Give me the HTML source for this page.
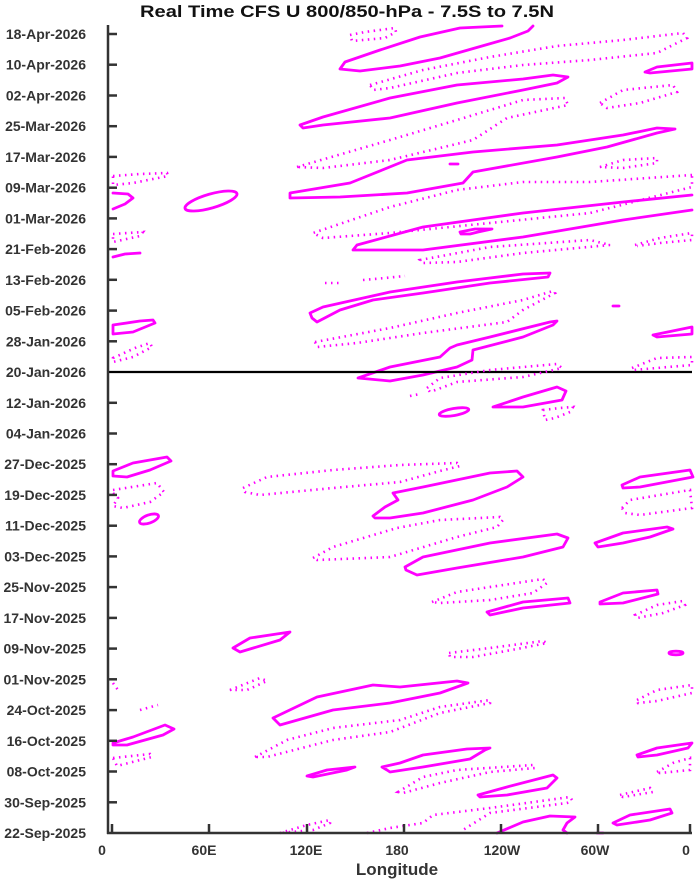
<!DOCTYPE html>
<html><head><meta charset="utf-8"><style>
html,body{margin:0;padding:0;background:#fff;}
svg{display:block;}
text{font-family:"Liberation Sans",Arial,sans-serif;font-weight:bold;fill:#333;}
.s{fill:none;stroke:#ff00ff;stroke-width:2.8;stroke-linejoin:round;stroke-linecap:round;}
.d{fill:none;stroke:#ff00ff;stroke-width:2.6;stroke-dasharray:1.5 4.5;stroke-linecap:butt;}
</style></head><body>
<svg width="695" height="880" viewBox="0 0 695 880" xmlns="http://www.w3.org/2000/svg">
<text x="347" y="17" font-size="17" text-anchor="middle" fill="#111" style="fill:#111" textLength="414" lengthAdjust="spacingAndGlyphs">Real Time CFS U 800/850-hPa - 7.5S to 7.5N</text>

<!-- contours: top half -->
<polygon class="d" points="350,35 365,32 395,28 396,32 385,38 352,41"/>
<polyline class="s" points="502,26 460,28 420,37 380,50 345,62 340,69 360,71 400,66 440,58 475,48 510,38 528,31 533,26"/>
<polygon class="d" points="370,85 423,70 490,57 557,46 623,40 683,33 687,38 657,53 590,60 523,65 457,73 390,88 373,90"/>
<polygon class="s" points="645,72 657,67 692,63 692,69 650,73"/>
<polygon class="s" points="300,125 323,117 390,98 457,85 523,79 553,75 568,77 557,83 523,90 457,103 390,118 323,125 303,128"/>
<polygon class="d" points="600,103 623,90 673,85 677,92 640,103 607,108"/>
<polygon class="d" points="297,167 390,140 457,120 523,100 565,98 568,105 507,118 473,140 390,160 323,168"/>
<polygon class="s" points="290,193 350,183 407,160 473,152 557,145 623,135 657,128 675,129 657,133 607,147 557,157 473,172 463,183 407,193 340,197 290,198"/>
<line class="s" x1="450" y1="164" x2="458" y2="164"/>
<polygon class="d" points="600,167 623,160 657,158 657,163 623,168"/>
<polygon class="d" points="692,175 590,182 523,182 457,190 390,207 313,233 323,238 390,233 490,223 590,213 692,187"/>
<polyline class="s" points="692,195 623,202 523,213 423,227 357,245 353,250 423,250 523,237 623,220 692,210"/>
<polygon class="s" points="460,232 475,229 492,229 478,232 470,234 461,234"/>
<polygon class="d" points="420,260 490,247 590,240 610,245 523,253 457,262 423,263"/>
<polyline class="d" points="635,245 660,238 692,233 692,240 660,243 637,246"/>
<polyline class="d" points="325,283 340,283"/>
<polyline class="d" points="363,280 385,278 405,276"/>
<polygon class="s" points="310,313 323,307 390,292 457,282 523,274 550,273 548,277 490,283 423,293 373,300 340,310 317,322 312,318"/>
<polygon class="d" points="315,342 390,328 457,313 523,300 553,291 555,293 523,310 507,322 423,333 357,343 317,347"/>
<line class="s" x1="613" y1="306" x2="619" y2="306"/>
<polygon class="s" points="653,335 692,327 692,334 657,337"/>
<polygon class="s" points="358,378 390,367 440,357 450,348 457,345 490,337 550,322 557,321 553,325 523,337 473,350 472,360 457,367 423,375 390,381"/>
<!-- left side top -->
<polygon class="d" points="113,176 140,174 167,173 168,176 133,183 113,185"/>
<polyline class="s" points="113,193 128,194 133,198 125,204 113,209"/>
<ellipse class="s" cx="211" cy="201" rx="27" ry="7" transform="rotate(-16 211 201)"/>
<polygon class="d" points="113,234 143,232 140,236 113,242"/>
<polyline class="s" points="113,257 125,254 140,253"/>
<polygon class="s" points="113,325 140,321 153,320 155,323 133,332 113,334"/>
<polygon class="d" points="113,358 135,348 150,343 152,347 133,357 113,362"/>

<!-- 20-Jan line -->
<line x1="108" y1="372" x2="692" y2="372" stroke="#000" stroke-width="2.2"/>

<!-- below line -->
<polygon class="d" points="427,388 440,378 490,370 557,364 562,368 523,377 457,382 430,392"/>
<polyline class="d" points="410,396 420,394"/>
<polygon class="d" points="632,368 657,358 692,357 692,365 657,368 633,370"/>
<polygon class="s" points="493,407 523,397 557,387 566,391 562,400 523,407"/>
<ellipse class="s" cx="454" cy="412" rx="15" ry="3.5" transform="rotate(-10 454 412)"/>
<polygon class="d" points="543,410 560,408 573,407 570,412 555,418 545,420"/>

<!-- Dec -->
<polygon class="s" points="113,471 133,463 167,457 171,461 150,470 127,477 113,476"/>
<polygon class="d" points="113,490 157,483 164,492 150,502 123,508 113,506 118,498 113,493"/>
<ellipse class="s" cx="149" cy="519" rx="10" ry="4" transform="rotate(-20 149 519)"/>
<polygon class="d" points="243,488 267,477 333,470 400,465 457,463 460,466 440,471 400,482 333,488 260,495 245,492"/>
<polygon class="s" points="373,516 385,507 398,500 393,493 423,487 490,473 517,471 523,477 507,487 473,500 423,513 390,518 375,518"/>
<polygon class="d" points="313,558 333,547 397,528 440,520 500,517 503,520 497,527 457,537 390,557 367,558 317,560"/>
<polygon class="s" points="622,485 640,477 690,470 693,477 640,487 623,488"/>
<polygon class="d" points="622,508 630,500 690,490 692,508 640,515 625,513"/>
<polygon class="s" points="405,567 423,557 490,543 557,534 568,538 563,547 523,557 457,568 417,575 406,570"/>
<polygon class="s" points="595,543 623,533 667,527 673,529 650,537 623,543 598,547"/>
<polygon class="d" points="432,602 457,592 543,579 547,583 533,593 490,600 440,603"/>
<polygon class="s" points="487,612 523,602 568,598 570,603 523,608 490,615"/>
<polygon class="s" points="600,602 623,593 657,590 658,594 623,603 600,604"/>
<polygon class="d" points="635,615 657,605 683,601 685,605 663,613 637,618"/>
<polygon class="d" points="449,653 490,648 543,641 547,643 517,649 473,657 450,657"/>
<ellipse class="s" cx="676" cy="653" rx="7" ry="1.8"/>
<polygon class="s" points="233,648 250,638 290,632 280,640 240,652"/>

<!-- Oct-Nov -->
<polyline class="d" points="113,683 118,690"/>
<polygon class="d" points="230,690 260,678 267,681 247,690"/>
<polyline class="d" points="140,710 158,705"/>
<polygon class="s" points="273,718 317,697 373,685 400,687 457,681 468,683 440,693 390,703 333,710 280,725"/>
<polygon class="s" points="113,743 133,737 165,725 174,729 163,735 127,745 113,745"/>
<polygon class="d" points="113,758 150,754 152,757 117,766"/>
<polygon class="d" points="255,757 287,740 333,728 400,720 440,707 490,700 490,703 440,713 390,732 333,740 267,757"/>
<polygon class="s" points="307,776 327,770 355,767 347,770 313,777"/>
<polygon class="s" points="382,767 400,763 423,755 467,749 490,748 485,750 470,759 423,767 390,772 387,770"/>
<polygon class="d" points="398,792 423,777 457,770 533,765 535,768 490,772 440,783 403,793"/>
<polygon class="s" points="478,795 507,787 553,775 557,778 547,788 507,795 480,797"/>
<polyline class="d" points="367,833 390,828 423,823 433,815 490,808 570,797 572,800 567,803 490,813 463,830"/>
<polygon class="d" points="280,833 307,825 330,820 330,823 313,830"/>
<polyline class="s" points="497,833 523,822 550,816 575,817 567,823 563,830 567,833"/>
<line class="s" x1="597" y1="833" x2="603" y2="833"/>
<polygon class="d" points="637,700 657,690 692,685 692,693 657,701 638,703"/>
<polygon class="s" points="637,755 657,748 692,743 688,748 657,755 638,757"/>
<polygon class="d" points="657,772 673,763 690,758 690,770 660,773"/>
<polygon class="d" points="620,795 650,788 653,792 623,797"/>
<polygon class="s" points="613,823 630,815 670,809 672,813 650,820 617,825"/>

<!-- axes -->
<g stroke="#333" stroke-width="2.5" fill="none">
<line x1="108" y1="25" x2="108" y2="834"/>
<line x1="107" y1="833" x2="692" y2="833"/>
</g>
<g stroke="#333" stroke-width="2.5">
<line x1="108" y1="34" x2="117" y2="34"/>
<line x1="108" y1="64.7" x2="117" y2="64.7"/>
<line x1="108" y1="95.5" x2="117" y2="95.5"/>
<line x1="108" y1="126.2" x2="117" y2="126.2"/>
<line x1="108" y1="156.9" x2="117" y2="156.9"/>
<line x1="108" y1="187.7" x2="117" y2="187.7"/>
<line x1="108" y1="218.4" x2="117" y2="218.4"/>
<line x1="108" y1="249.1" x2="117" y2="249.1"/>
<line x1="108" y1="279.8" x2="117" y2="279.8"/>
<line x1="108" y1="310.6" x2="117" y2="310.6"/>
<line x1="108" y1="341.3" x2="117" y2="341.3"/>
<line x1="108" y1="402.8" x2="117" y2="402.8"/>
<line x1="108" y1="433.5" x2="117" y2="433.5"/>
<line x1="108" y1="464.2" x2="117" y2="464.2"/>
<line x1="108" y1="494.9" x2="117" y2="494.9"/>
<line x1="108" y1="525.7" x2="117" y2="525.7"/>
<line x1="108" y1="556.4" x2="117" y2="556.4"/>
<line x1="108" y1="587.1" x2="117" y2="587.1"/>
<line x1="108" y1="617.9" x2="117" y2="617.9"/>
<line x1="108" y1="648.6" x2="117" y2="648.6"/>
<line x1="108" y1="679.3" x2="117" y2="679.3"/>
<line x1="108" y1="710.1" x2="117" y2="710.1"/>
<line x1="108" y1="740.8" x2="117" y2="740.8"/>
<line x1="108" y1="771.5" x2="117" y2="771.5"/>
<line x1="108" y1="802.3" x2="117" y2="802.3"/>
<line x1="112" y1="833" x2="112" y2="824"/>
<line x1="209" y1="833" x2="209" y2="824"/>
<line x1="307" y1="833" x2="307" y2="824"/>
<line x1="404" y1="833" x2="404" y2="824"/>
<line x1="501" y1="833" x2="501" y2="824"/>
<line x1="598" y1="833" x2="598" y2="824"/>
<line x1="690" y1="833" x2="690" y2="824"/>
</g>

<g font-size="14" text-anchor="end">
<text x="86" y="39">18-Apr-2026</text>
<text x="86" y="69.7">10-Apr-2026</text>
<text x="86" y="100.5">02-Apr-2026</text>
<text x="86" y="131.2">25-Mar-2026</text>
<text x="86" y="161.9">17-Mar-2026</text>
<text x="86" y="192.7">09-Mar-2026</text>
<text x="86" y="223.4">01-Mar-2026</text>
<text x="86" y="254.1">21-Feb-2026</text>
<text x="86" y="284.8">13-Feb-2026</text>
<text x="86" y="315.6">05-Feb-2026</text>
<text x="86" y="346.3">28-Jan-2026</text>
<text x="86" y="377">20-Jan-2026</text>
<text x="86" y="407.8">12-Jan-2026</text>
<text x="86" y="438.5">04-Jan-2026</text>
<text x="86" y="469.2">27-Dec-2025</text>
<text x="86" y="499.9">19-Dec-2025</text>
<text x="86" y="530.7">11-Dec-2025</text>
<text x="86" y="561.4">03-Dec-2025</text>
<text x="86" y="592.1">25-Nov-2025</text>
<text x="86" y="622.9">17-Nov-2025</text>
<text x="86" y="653.6">09-Nov-2025</text>
<text x="86" y="684.3">01-Nov-2025</text>
<text x="86" y="715.1">24-Oct-2025</text>
<text x="86" y="745.8">16-Oct-2025</text>
<text x="86" y="776.5">08-Oct-2025</text>
<text x="86" y="807.3">30-Sep-2025</text>
<text x="86" y="838">22-Sep-2025</text>
</g>
<g font-size="14" text-anchor="middle">
<text x="102" y="855">0</text>
<text x="204" y="855">60E</text>
<text x="306" y="855">120E</text>
<text x="397" y="855">180</text>
<text x="502" y="855">120W</text>
<text x="595" y="855">60W</text>
<text x="686" y="855">0</text>
</g>
<text x="397" y="875" font-size="17" text-anchor="middle">Longitude</text>
</svg>
</body></html>
